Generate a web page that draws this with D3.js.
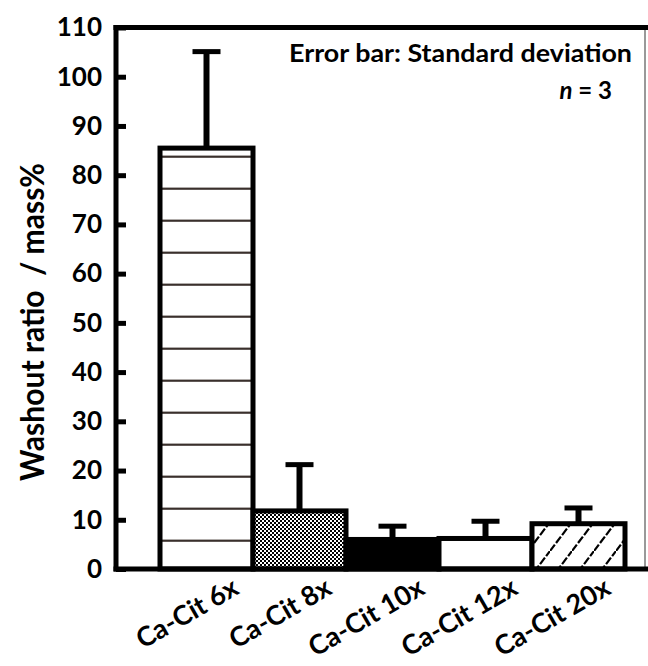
<!DOCTYPE html>
<html>
<head>
<meta charset="utf-8">
<script src="https://cdn.jsdelivr.net/npm/d3@7"></script>
<style>
  html, body { margin: 0; padding: 0; background: #fff; }
  svg { display: block; }
  text { font-family: Lato, "Open Sans", sans-serif; font-weight: bold; fill: #000; }
</style>
</head>
<body>
<svg id="chart" width="648" height="666"></svg>
<script>
// ---- data ----
const categories = ["Ca-Cit 6x", "Ca-Cit 8x", "Ca-Cit 10x", "Ca-Cit 12x", "Ca-Cit 20x"];
const means = [85.5, 11.8, 6.0, 6.2, 9.2];
const sds = [19.6, 9.4, 2.7, 3.5, 3.2];
const fills = ["url(#hstripe)", "url(#checker)", "#000", "#fff", "url(#hatch)"];
const yTicks = [0, 10, 20, 30, 40, 50, 60, 70, 80, 90, 100, 110];
const yTitle = "Washout ratio  / mass%";
const noteLine1 = "Error bar: Standard deviation";

// ---- layout ----
const W = 648, H = 666;
const plotLeft = 116, plotRight = 645, plotTop = 27.5, plotBottom = 569;

const svg = d3.select("#chart");
const defs = svg.append("defs");

// horizontal stripes
const ps = defs.append("pattern").attr("id", "hstripe").attr("patternUnits", "userSpaceOnUse")
  .attr("width", 8).attr("height", 32);
ps.append("rect").attr("width", 8).attr("height", 32).attr("fill", "#fff");
ps.append("rect").attr("x", 0).attr("y", 27.6).attr("width", 8).attr("height", 2.2).attr("fill", "#3a302c");

// checkerboard
const pc = defs.append("pattern").attr("id", "checker").attr("patternUnits", "userSpaceOnUse")
  .attr("width", 4).attr("height", 4);
pc.append("rect").attr("width", 4).attr("height", 4).attr("fill", "#fff");
pc.append("rect").attr("x", 0).attr("y", 0).attr("width", 2).attr("height", 2).attr("fill", "#000");
pc.append("rect").attr("x", 2).attr("y", 2).attr("width", 2).attr("height", 2).attr("fill", "#000");

// diagonal hatch
const ph = defs.append("pattern").attr("id", "hatch").attr("patternUnits", "userSpaceOnUse")
  .attr("width", 22).attr("height", 29);
ph.append("rect").attr("width", 22).attr("height", 29).attr("fill", "#fff");
ph.append("line").attr("x1", 0).attr("y1", 29).attr("x2", 22).attr("y2", 0)
  .attr("stroke", "#000").attr("stroke-width", 2.2).attr("stroke-dasharray", "8 2");

// ---- scales ----
const y = d3.scaleLinear().domain([0, 110]).range([plotBottom, plotTop]);
const x = d3.scaleBand().domain(categories).range([160, 625]).padding(0);

// ---- frame ----
svg.append("line").attr("x1", plotRight).attr("x2", plotRight).attr("y1", plotTop).attr("y2", plotBottom)
  .attr("stroke", "#777").attr("stroke-width", 1.5);
svg.append("line").attr("x1", plotLeft - 2.5).attr("x2", W).attr("y1", plotTop).attr("y2", plotTop)
  .attr("stroke", "#000").attr("stroke-width", 5);

// ---- bars ----
const data = categories.map((c, i) => ({ c, m: means[i], sd: sds[i], fill: fills[i] }));

svg.append("g").selectAll("rect").data(data).join("rect")
  .attr("x", d => x(d.c))
  .attr("y", d => y(d.m))
  .attr("width", x.bandwidth())
  .attr("height", d => y(0) - y(d.m))
  .attr("fill", d => d.fill)
  .attr("stroke", "#000")
  .attr("stroke-width", 5);

// ---- error bars ----
const eg = svg.append("g").selectAll("g").data(data).join("g");
eg.append("line")
  .attr("x1", d => x(d.c) + x.bandwidth() / 2).attr("x2", d => x(d.c) + x.bandwidth() / 2)
  .attr("y1", d => y(d.m)).attr("y2", d => y(d.m + d.sd))
  .attr("stroke", "#000").attr("stroke-width", 6);
eg.append("line")
  .attr("x1", d => x(d.c) + x.bandwidth() / 2 - 14).attr("x2", d => x(d.c) + x.bandwidth() / 2 + 14)
  .attr("y1", d => y(d.m + d.sd)).attr("y2", d => y(d.m + d.sd))
  .attr("stroke", "#000").attr("stroke-width", 5);

// ---- y axis ----
const yAxis = d3.axisLeft(y).tickValues(yTicks).tickFormat(d3.format("d"))
  .tickSizeInner(-10).tickSizeOuter(0).tickPadding(14);
const ya = svg.append("g").attr("transform", `translate(${plotLeft},0)`).call(yAxis);
ya.select(".domain").remove();
ya.selectAll(".tick line").attr("stroke", "#000").attr("stroke-width", 5);
ya.selectAll(".tick text").attr("font-size", 26).attr("font-family", "Lato, sans-serif")
  .attr("font-weight", "bold").attr("fill", "#000");

// axis lines
svg.append("line").attr("x1", plotLeft).attr("x2", plotLeft).attr("y1", plotTop - 2.5).attr("y2", plotBottom + 2.5)
  .attr("stroke", "#000").attr("stroke-width", 5);
svg.append("line").attr("x1", plotLeft - 2.5).attr("x2", W).attr("y1", plotBottom).attr("y2", plotBottom)
  .attr("stroke", "#000").attr("stroke-width", 5);

// ---- x labels ----
svg.append("g").selectAll("text").data(categories).join("text")
  .attr("transform", d => `translate(${x(d) + x.bandwidth() / 2 + 34},593) rotate(-30)`)
  .attr("text-anchor", "end")
  .attr("font-size", 27)
  .text(d => d);

// ---- y title ----
svg.append("text")
  .attr("transform", `translate(44,322) rotate(-90)`)
  .attr("text-anchor", "middle")
  .attr("font-size", 33)
  .attr("textLength", 318)
  .attr("lengthAdjust", "spacingAndGlyphs")
  .style("white-space", "pre")
  .text(yTitle);

// ---- note ----
svg.append("text").attr("x", 632).attr("y", 62).attr("text-anchor", "end")
  .attr("font-size", 24)
  .attr("textLength", 343).attr("lengthAdjust", "spacingAndGlyphs")
  .text(noteLine1);
const n2 = svg.append("text").attr("x", 612).attr("y", 99).attr("text-anchor", "end")
  .attr("font-size", 24);
n2.append("tspan").attr("font-style", "italic").text("n");
n2.append("tspan").text(" = 3");
</script>
</body>
</html>
